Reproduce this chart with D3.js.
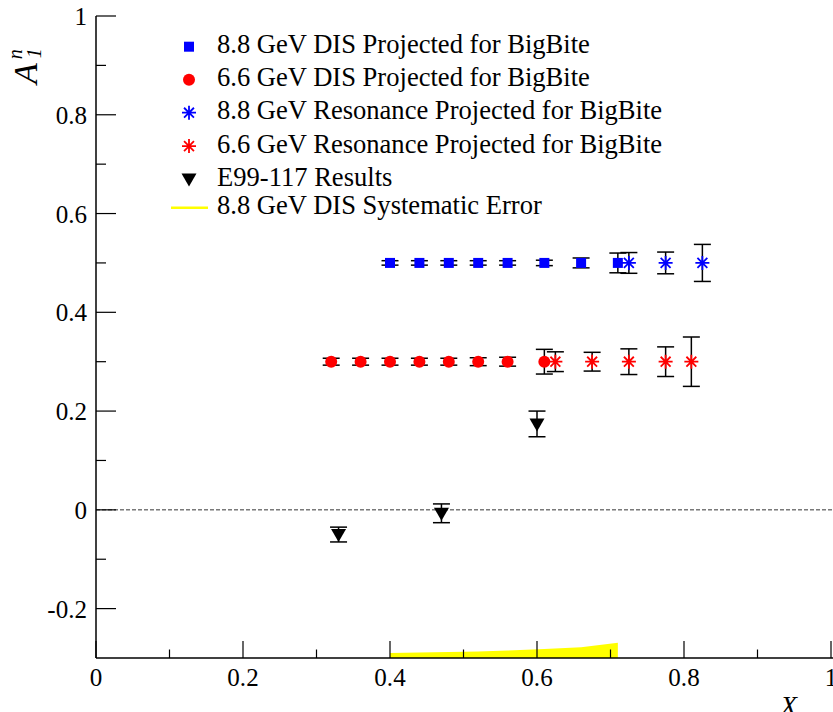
<!DOCTYPE html>
<html>
<head>
<meta charset="utf-8">
<script src="https://cdn.jsdelivr.net/npm/d3@7"></script>
<style>
html,body{margin:0;padding:0;background:#fff;}
svg{display:block;}
</style>
</head>
<body>
<svg id="c" width="833" height="712" font-family="'Liberation Serif', 'Times New Roman', Times, serif"></svg>
<script>
// ---- data ----
const dis88X   = [0.40, 0.44, 0.48, 0.52, 0.56, 0.61, 0.66, 0.71];
const dis88Y   = [0.5, 0.5, 0.5, 0.5, 0.5, 0.5, 0.5, 0.5];
const dis88Err = [0.0045, 0.0045, 0.0045, 0.0045, 0.0045, 0.0055, 0.010, 0.020];

const dis66X   = [0.32, 0.36, 0.40, 0.44, 0.48, 0.52, 0.56, 0.61];
const dis66Y   = [0.3, 0.3, 0.3, 0.3, 0.3, 0.3, 0.3, 0.3];
const dis66Err = [0.007, 0.007, 0.007, 0.007, 0.007, 0.008, 0.009, 0.025];

const res88X   = [0.725, 0.775, 0.825];
const res88Y   = [0.5, 0.5, 0.5];
const res88Err = [0.021, 0.022, 0.0375];

const res66X   = [0.625, 0.675, 0.725, 0.775, 0.81];
const res66Y   = [0.3, 0.3, 0.3, 0.3, 0.3];
const res66Err = [0.020, 0.019, 0.026, 0.030, 0.050];

const e99X     = [0.33, 0.47, 0.60];
const e99Y     = [-0.05, -0.007, 0.174];
const e99Err   = [0.015, 0.019, 0.026];

const sysX     = [0.40, 0.44, 0.48, 0.52, 0.56, 0.61, 0.66, 0.71];
const sysErr   = [0.010, 0.011, 0.012, 0.013, 0.015, 0.018, 0.022, 0.031];

const xTicks = [0, 0.2, 0.4, 0.6, 0.8, 1];
const xMinor = [0.1, 0.3, 0.5, 0.7, 0.9];
const yTicks = [-0.2, 0, 0.2, 0.4, 0.6, 0.8, 1];
const yMinor = [-0.1, 0.1, 0.3, 0.5, 0.7, 0.9];

const legendLabels = [
  "8.8 GeV DIS Projected for BigBite",
  "6.6 GeV DIS Projected for BigBite",
  "8.8 GeV Resonance Projected for BigBite",
  "6.6 GeV Resonance Projected for BigBite",
  "E99-117 Results",
  "8.8 GeV DIS Systematic Error"
];

// ---- layout ----
const svg = d3.select("#c");
const x = d3.scaleLinear().domain([0, 1]).range([96, 831]);
const y = d3.scaleLinear().domain([-0.3, 1]).range([658, 16]);
const BLUE = "#0000ff", RED = "#ff0000", YEL = "#ffff00";
const fmt = d => String(d);

// calibrate font size so that legend line 1 spans the reference width
const probe = svg.append("text").attr("font-size", 100).text(legendLabels[0]);
const probeW = probe.node().getComputedTextLength() || 1405;
probe.remove();
const LEG_FS = Math.max(20, Math.min(30, 100 * 373 / probeW));
const TICK_FS = LEG_FS * 25 / 26.5;

const zip = (xs, ys, es) => xs.map((v, i) => ({x: v, y: ys[i], e: es ? es[i] : 0}));

// systematic band
const band = sysX.map((v, i) => ({x: v, e: sysErr[i]}));
svg.append("path")
  .datum(band)
  .attr("fill", YEL)
  .attr("d", d3.area().x(d => x(d.x)).y0(y(-0.3)).y1(d => y(-0.3 + d.e)));

// zero line
svg.append("line")
  .attr("x1", x(0)).attr("x2", 833).attr("y1", y(0)).attr("y2", y(0))
  .attr("stroke", "#000").attr("stroke-width", 0.8).attr("stroke-dasharray", "4,2");

// axes
const gx = svg.append("g").attr("transform", `translate(0,${y(-0.3)})`);
gx.append("line").attr("x1", x(0)).attr("x2", 833).attr("y1", 0).attr("y2", 0)
  .attr("stroke", "#000").attr("stroke-width", 1.5);
gx.selectAll(".maj").data(xTicks).enter().append("line")
  .attr("x1", d => x(d)).attr("x2", d => x(d)).attr("y1", 0).attr("y2", -17)
  .attr("stroke", "#000").attr("stroke-width", 1.2);
gx.selectAll(".min").data(xMinor).enter().append("line")
  .attr("x1", d => x(d)).attr("x2", d => x(d)).attr("y1", 0).attr("y2", -8.5)
  .attr("stroke", "#000").attr("stroke-width", 1.2);
gx.selectAll(".lab").data(xTicks).enter().append("text")
  .attr("x", d => x(d)).attr("y", 28).attr("text-anchor", "middle")
  .attr("font-size", TICK_FS).text(fmt);

const gy = svg.append("g");
gy.append("line").attr("x1", x(0)).attr("x2", x(0)).attr("y1", y(-0.3)).attr("y2", y(1))
  .attr("stroke", "#000").attr("stroke-width", 1.5);
gy.selectAll(".maj").data(yTicks).enter().append("line")
  .attr("x1", x(0)).attr("x2", x(0) + 20).attr("y1", d => y(d)).attr("y2", d => y(d))
  .attr("stroke", "#000").attr("stroke-width", 1.2);
gy.selectAll(".min").data(yMinor).enter().append("line")
  .attr("x1", x(0)).attr("x2", x(0) + 10).attr("y1", d => y(d)).attr("y2", d => y(d))
  .attr("stroke", "#000").attr("stroke-width", 1.2);
gy.selectAll(".lab").data(yTicks).enter().append("text")
  .attr("x", x(0) - 9).attr("y", d => y(d) + 9).attr("text-anchor", "end")
  .attr("font-size", TICK_FS).text(fmt);

// axis titles
const yt = svg.append("text")
  .attr("transform", "translate(37,84) rotate(-90)")
  .attr("font-size", 34).attr("font-style", "italic");
yt.append("tspan").text("A");
yt.append("tspan").attr("font-size", 20).attr("dx", 4).attr("dy", -15).text("n");
yt.append("tspan").attr("font-size", 20).attr("dx", -9).attr("dy", 19).text("1");

svg.append("text").attr("x", 797).attr("y", 715).attr("text-anchor", "end")
  .attr("font-size", 27).attr("font-style", "italic").text("X");

// error bars
function errBars(data) {
  const g = svg.append("g").attr("stroke", "#000").attr("stroke-width", 1.5);
  data.forEach(d => {
    const cx = x(d.x), y1 = y(d.y + d.e), y2 = y(d.y - d.e);
    g.append("line").attr("x1", cx).attr("x2", cx).attr("y1", y1).attr("y2", y2);
    g.append("line").attr("x1", cx - 8.5).attr("x2", cx + 8.5).attr("y1", y1).attr("y2", y1);
    g.append("line").attr("x1", cx - 8.5).attr("x2", cx + 8.5).attr("y1", y2).attr("y2", y2);
  });
}

// markers
function square(g, cx, cy, col) {
  g.append("rect").attr("x", cx - 5).attr("y", cy - 5).attr("width", 10).attr("height", 10).attr("fill", col);
}
function circle(g, cx, cy, col) {
  g.append("circle").attr("cx", cx).attr("cy", cy).attr("r", 6).attr("fill", col);
}
function star(g, cx, cy, col) {
  const r = 7, d = r * 0.7071;
  const p = `M${cx - r},${cy}L${cx + r},${cy}M${cx},${cy - r}L${cx},${cy + r}` +
            `M${cx - d},${cy - d}L${cx + d},${cy + d}M${cx - d},${cy + d}L${cx + d},${cy - d}`;
  g.append("path").attr("d", p).attr("stroke", col).attr("stroke-width", 1.8).attr("fill", "none");
}
function tri(g, cx, cy, col) {
  const w = 7.5, h = 13, t = cy - h / 2 + 1;
  g.append("path").attr("d", `M${cx - w},${t}L${cx + w},${t}L${cx},${t + h}Z`).attr("fill", col);
}
function markers(data, fn, col) {
  const g = svg.append("g");
  data.forEach(d => fn(g, x(d.x), y(d.y), col));
}

const sDis66 = zip(dis66X, dis66Y, dis66Err);
const sDis88 = zip(dis88X, dis88Y, dis88Err);
const sRes66 = zip(res66X, res66Y, res66Err);
const sRes88 = zip(res88X, res88Y, res88Err);
const sE99 = zip(e99X, e99Y, e99Err);

errBars(sDis66); markers(sDis66, circle, RED);
errBars(sRes66); markers(sRes66, star, RED);
errBars(sDis88); markers(sDis88, square, BLUE);
errBars(sRes88); markers(sRes88, star, BLUE);
errBars(sE99); markers(sE99, tri, "#000");

// legend
const lg = svg.append("g");
const legBase = [53.3, 86.3, 119.3, 152.7, 185.7, 214.3];
const legFns = [square, circle, star, star, tri, null];
const legCols = [BLUE, RED, BLUE, RED, "#000", YEL];
legendLabels.forEach((t, i) => {
  const cy = legBase[i] - 6.6;
  if (legFns[i]) legFns[i](lg, 189, cy, legCols[i]);
  else lg.append("line").attr("x1", 171).attr("x2", 208).attr("y1", cy).attr("y2", cy)
         .attr("stroke", YEL).attr("stroke-width", 2.5);
  lg.append("text").attr("x", 217).attr("y", legBase[i]).attr("font-size", LEG_FS).text(t);
});
</script>
</body>
</html>
